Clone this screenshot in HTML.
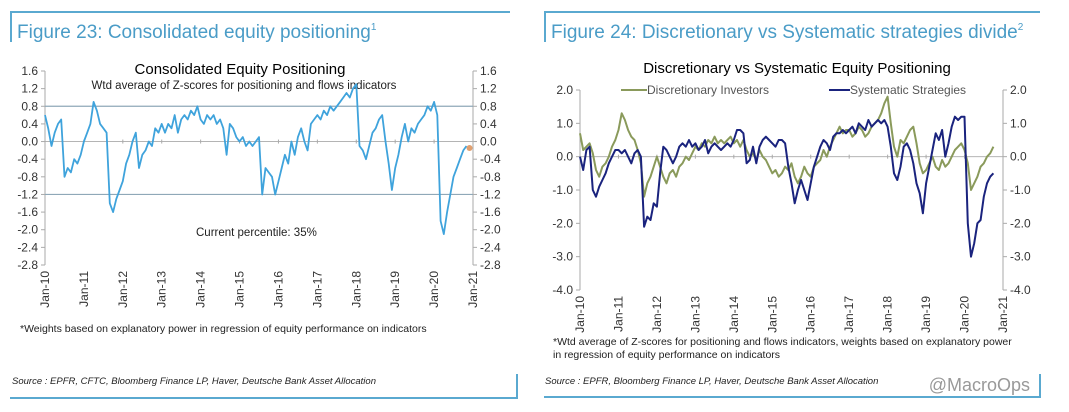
<!DOCTYPE html>
<html><head><meta charset="utf-8">
<style>
body{margin:0;background:#fff;width:1069px;height:412px;overflow:hidden;font-family:"Liberation Sans",sans-serif;}
svg{display:block}
</style></head>
<body>
<svg id="s" width="1069" height="412" xmlns="http://www.w3.org/2000/svg" font-family="Liberation Sans, sans-serif">
  <g>
    <line x1="10" y1="12" x2="510" y2="12" stroke="#5aa9d0" stroke-width="2"/>
    <line x1="11" y1="12" x2="11" y2="42" stroke="#5aa9d0" stroke-width="2"/>
    <line x1="10" y1="398" x2="518" y2="398" stroke="#5aa9d0" stroke-width="2"/>
    <line x1="517" y1="374" x2="517" y2="398" stroke="#5aa9d0" stroke-width="2"/>
  </g>
  <text x="17" y="38" font-size="19" fill="#4a9cc7">Figure 23: Consolidated equity positioning<tspan font-size="10" dy="-8">1</tspan></text>
  <g>
    <line x1="544" y1="12" x2="1040" y2="12" stroke="#5aa9d0" stroke-width="2"/>
    <line x1="545" y1="12" x2="545" y2="42" stroke="#5aa9d0" stroke-width="2"/>
    <line x1="544" y1="397" x2="1041" y2="397" stroke="#5aa9d0" stroke-width="2"/>
    <line x1="1040" y1="374" x2="1040" y2="397" stroke="#5aa9d0" stroke-width="2"/>
  </g>
  <text x="551" y="38" font-size="19" fill="#4a9cc7">Figure 24: Discretionary vs Systematic strategies divide<tspan font-size="10" dy="-8">2</tspan></text>

  <text x="240" y="74" font-size="15" text-anchor="middle" fill="#000">Consolidated Equity Positioning</text>
  <text x="244" y="89" font-size="11.5" text-anchor="middle" fill="#222">Wtd average of Z-scores for positioning and flows indicators</text>
  <text x="196" y="236" font-size="11.5" fill="#222">Current percentile: 35%</text>
  <text x="20" y="332" font-size="10.5" fill="#222">*Weights based on explanatory power in regression of equity performance on indicators</text>
  <text x="12" y="384" font-size="9.5" font-style="italic" fill="#222">Source : EPFR, CFTC, Bloomberg Finance LP, Haver, Deutsche Bank Asset Allocation</text>

  <text x="797" y="73" font-size="15" text-anchor="middle" fill="#000">Discretionary  vs Systematic Equity Positioning</text>
  <g>
    <line x1="621" y1="90" x2="647" y2="90" stroke="#8a9a5b" stroke-width="2"/>
    <text x="647" y="94" font-size="12" fill="#555">Discretionary Investors</text>
  </g>
  <g>
    <line x1="829" y1="90" x2="850" y2="90" stroke="#1a237e" stroke-width="2"/>
    <text x="850" y="94" font-size="12" fill="#555">Systematic Strategies</text>
  </g>
  <text x="553" y="345" font-size="10.5" fill="#222">*Wtd average of Z-scores for positioning and flows indicators, weights based on explanatory power</text>
  <text x="553" y="358" font-size="10.5" fill="#222">in regression of equity performance on indicators</text>
  <text x="545" y="384" font-size="9.5" font-style="italic" fill="#222">Source : EPFR, Bloomberg Finance LP, Haver, Deutsche Bank Asset Allocation</text>
  <text x="1030" y="391" font-size="18" text-anchor="end" fill="#999">@MacroOps</text>
  <g id="L"></g><g id="R"></g>
</svg>
<script>
const years=["Jan-10","Jan-11","Jan-12","Jan-13","Jan-14","Jan-15","Jan-16","Jan-17","Jan-18","Jan-19","Jan-20","Jan-21"];
const leftTicks=[1.6,1.2,0.8,0.4,0.0,-0.4,-0.8,-1.2,-1.6,-2.0,-2.4,-2.8];
const rightTicks=[2.0,1.0,0.0,-1.0,-2.0,-3.0,-4.0];
const consolidated=[0.6,0.3,-0.1,0.2,0.4,0.5,-0.8,-0.6,-0.7,-0.4,-0.5,-0.3,
0.0,0.2,0.4,0.9,0.7,0.4,0.3,0.2,-1.4,-1.6,-1.3,-1.1,
-0.9,-0.5,-0.3,0.0,0.2,-0.6,-0.3,-0.2,0.0,-0.1,0.3,0.2,
0.4,0.2,0.4,0.3,0.6,0.2,0.5,0.6,0.5,0.7,0.6,0.8,
0.5,0.4,0.6,0.5,0.6,0.4,0.5,0.3,-0.3,0.4,0.3,0.1,
0.0,0.1,-0.1,0.0,-0.1,0.0,0.1,-1.2,-0.6,-0.7,-0.8,-1.2,
-0.9,-0.6,-0.3,-0.5,0.0,-0.3,0.1,0.3,0.0,-0.2,0.4,0.5,
0.6,0.5,0.7,0.6,0.8,0.7,0.8,0.9,1.0,1.1,1.0,1.2,
1.3,-0.1,-0.2,-0.4,-0.1,0.2,0.3,0.5,0.6,0.0,-0.5,-1.1,
-0.6,-0.3,0.1,0.4,0.0,0.3,0.2,0.4,0.5,0.6,0.8,0.7,
0.9,0.6,-1.8,-2.1,-1.6,-1.2,-0.8,-0.6,-0.4,-0.2,-0.1];
const discretionary=[0.7,0.2,0.3,0.4,0.1,-0.4,-0.6,-0.3,-0.2,0.0,0.3,0.5,
0.8,1.3,1.1,0.8,0.6,0.5,0.2,-0.2,-1.2,-0.8,-0.6,-0.3,
0.0,-0.3,-0.6,-0.8,-0.5,-0.4,-0.6,-0.3,-0.2,0.0,-0.1,0.1,
0.3,0.2,0.4,0.3,0.5,0.4,0.6,0.4,0.5,0.4,0.5,0.6,
0.4,0.5,0.3,0.5,0.2,0.0,0.1,-0.1,0.2,0.0,-0.1,-0.3,
-0.5,-0.4,-0.6,-0.5,-0.3,-0.4,-0.2,-0.6,-0.8,-0.6,-0.3,-0.5,
-0.6,-0.3,-0.2,-0.1,0.2,0.0,0.3,0.5,0.7,0.9,0.7,0.8,
0.8,0.6,0.7,0.9,0.8,0.6,0.7,0.9,1.0,1.1,1.3,1.6,
1.8,1.0,0.3,0.0,0.5,0.4,0.6,0.8,0.9,0.4,-0.2,-0.5,
-0.4,-0.2,0.0,-0.3,-0.4,-0.1,-0.3,-0.2,0.0,0.2,0.3,0.4,
0.2,-0.2,-1.0,-0.8,-0.6,-0.3,-0.2,0.0,0.1,0.3];
const systematic=[0.0,-0.4,0.2,0.3,-1.0,-1.2,-0.9,-0.7,-0.5,-0.2,0.0,0.2,
0.2,0.1,0.2,0.0,-0.2,0.1,0.2,0.0,-2.1,-1.8,-1.9,-1.4,
-1.5,-0.5,0.3,0.2,0.0,-0.2,0.0,0.3,0.4,0.3,0.5,0.3,
0.4,0.2,0.3,0.5,0.1,0.3,0.4,0.3,0.2,0.3,0.4,0.3,
0.5,0.8,0.8,0.7,-0.2,-0.1,0.3,-0.2,0.3,0.5,0.6,0.5,
0.4,0.3,0.5,0.5,0.4,-0.3,-0.8,-1.4,-1.0,-0.7,-1.0,-1.3,
-0.8,-0.3,0.0,0.3,0.5,0.4,0.2,0.6,0.7,0.7,0.8,0.7,
0.8,0.9,0.7,1.0,0.9,0.8,1.1,0.9,1.0,1.1,1.0,1.1,
0.9,0.3,-0.5,-0.7,-0.3,0.3,0.4,0.2,-0.2,-0.8,-1.1,-1.7,
-0.8,-0.3,0.2,0.7,0.5,0.8,0.0,0.4,0.9,1.2,1.1,1.2,
1.2,-2.0,-3.0,-2.6,-2.0,-1.9,-1.2,-0.8,-0.6,-0.5];
const NS="http://www.w3.org/2000/svg";
function mk(p,t,a){const e=document.createElementNS(NS,t);for(const k in a)e.setAttribute(k,a[k]);p.appendChild(e);return e;}
function chart(g,x0,x1,yTop,yBot,vTop,vBot,ticks,fmt,hlines){
  const xs=m=>x0+(x1-x0)*m/132, ys=v=>yTop+(vTop-v)/(vTop-vBot)*(yBot-yTop);
  mk(g,'line',{x1:x0,y1:yTop,x2:x0,y2:yBot,stroke:'#aaa'});
  mk(g,'line',{x1:x1,y1:yTop,x2:x1,y2:yBot,stroke:'#aaa'});
  ticks.forEach(v=>{const y=ys(v);
    mk(g,'line',{x1:x0-4,y1:y,x2:x0,y2:y,stroke:'#aaa'});
    mk(g,'line',{x1:x1,y1:y,x2:x1+4,y2:y,stroke:'#aaa'});
    const t1=mk(g,'text',{x:x0-7,y:y+4,'font-size':12,'text-anchor':'end',fill:'#333'});t1.textContent=fmt(v);
    
    
    const t2=mk(g,'text',{x:x1+7,y:y+4,'font-size':12,fill:'#333'});t2.textContent=fmt(v);
    
    
  });
  hlines.forEach(h=>{const l=mk(g,'line',{x1:x0,y1:ys(h[0]),x2:x1,y2:ys(h[0]),stroke:h[1],'stroke-width':h[2]});
    
    });
  years.forEach((yl,i)=>{const x=xs(i*12);
    mk(g,'line',{x1:x,y1:ys(0)-2,x2:x,y2:ys(0)+2,stroke:'#aaa'});
    const t=mk(g,'text',{x:0,y:0,'font-size':12,'text-anchor':'end',fill:'#333',transform:`translate(${x+4},${yBot+6}) rotate(-90)`});
    t.textContent=yl;
    
    
  });
  return {xs,ys};
}
function line(g,s,data,color,w,name){
  const p=mk(g,'path',{d:data.map((v,i)=>(i?'L':'M')+s.xs(i).toFixed(1)+','+s.ys(v).toFixed(1)).join(''),fill:'none',stroke:color,'stroke-width':w,'stroke-linejoin':'round'});
  
  
  return p;
}
const L=document.getElementById('L'),R=document.getElementById('R');
const sl=chart(L,45,473,71,265,1.6,-2.8,leftTicks,v=>v.toFixed(1),[[0.8,'#8fa8b8',1.2],[0,'#aaa',0.8],[-1.2,'#8fa8b8',1.2]]);
line(L,sl,consolidated,'#3fa3dc',1.8,'consolidated-line');
const last=consolidated.length-1;
const dot=mk(L,'circle',{cx:sl.xs(last)+3,cy:sl.ys(consolidated[last])+2,r:3,fill:'#e0a070'});


const sr=chart(R,580,1003,90,290,2,-4,rightTicks,v=>v.toFixed(1),[[0,'#aaa',0.8]]);
line(R,sr,discretionary,'#8a9a5b',2,'discretionary-line');
line(R,sr,systematic,'#1a237e',2,'systematic-line');
</script>
</body></html>
